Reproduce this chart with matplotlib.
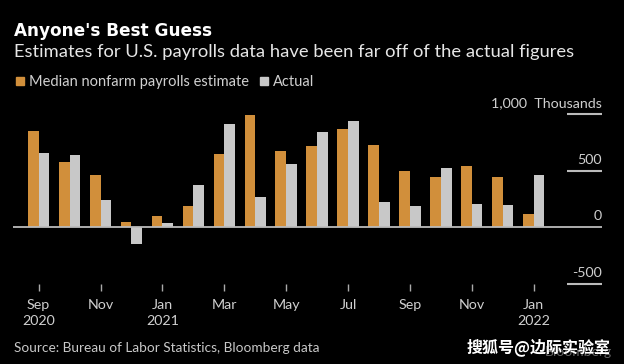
import matplotlib.pyplot as plt
from matplotlib.patches import Rectangle
import numpy as np

# monthly payrolls, thousands (Sep 2020 .. Jan 2022)
months = ["Sep", "Oct", "Nov", "Dec", "Jan", "Feb", "Mar", "Apr", "May",
          "Jun", "Jul", "Aug", "Sep", "Oct", "Nov", "Dec", "Jan"]
estimate = [850, 580, 460, 50, 100, 190, 650, 990, 670, 715, 865, 730,
            495, 440, 545, 440, 120]
actual = [655, 635, 240, -145, 40, 375, 910, 265, 555, 845, 935, 225,
          190, 525, 205, 195, 460]
tick_labels = ["Sep\n2020", "Nov", "Jan\n2021", "Mar", "May", "Jul", "Sep",
               "Nov", "Jan\n2022"]
y_levels = [1000, 500, 0, -500]
y_labels = ["1,000  Thousands", "500", "0", "-500"]

ORANGE = "#D18F3B"
GRAY = "#C8C8C8"
TXT = "#E6E6E6"

plt.rcParams["font.family"] = ["Lato", "Noto Sans CJK SC", "DejaVu Sans"]

W, H = 624, 364
fig = plt.figure(figsize=(W / 100, H / 100), dpi=100, facecolor="black")
ax = fig.add_axes([13 / W, 1 - 284 / H, (602 - 13) / W, (284 - 114) / H])
ax.set_facecolor("black")

x = np.arange(len(months))
bw = 0.345
ax.bar(x - bw / 2, estimate, bw, color=ORANGE, zorder=2)
ax.bar(x + bw / 2, actual, bw, color=GRAY, zorder=2)

xmax = 18.21
ax.set_xlim(-0.83, xmax)
ax.set_ylim(-500, 1000)

for lvl, lab in zip(y_levels, y_labels):
    if lvl == 0:
        ax.axhline(0, color="#BBBBBB", lw=1.3, zorder=3)
    else:
        ax.hlines(lvl, 17.08, xmax, color="#BBBBBB", lw=1.5, zorder=3,
                  clip_on=False)
    ax.annotate(lab, (xmax, lvl), xytext=(0, 7), textcoords="offset pixels",
                ha="right", va="baseline", color="#CFCFCF", fontsize=10.3)

for s in ax.spines.values():
    s.set_visible(False)
ax.set_yticks([])
ax.set_xticks(x[::2], tick_labels)
ax.tick_params(axis="x", length=5, width=1, color="#AAAAAA", pad=6,
               labelcolor="#CFCFCF", labelsize=10.3)
for t in ax.get_xticklabels():
    t.set_linespacing(1.35)

fig.text(14 / W, 1 - 36 / H, "Anyone's Best Guess", color="white",
         fontsize=12.2, fontweight="bold", va="baseline",
         family=["DejaVu Sans"])
fig.text(14 / W, 1 - 57 / H,
         "Estimates for U.S. payrolls data have been far off of the actual figures",
         color=TXT, fontsize=13.2, va="baseline")

# legend
fig.patches.append(Rectangle((16 / W, 1 - 85 / H), 8 / W, 8 / H,
                             transform=fig.transFigure, color=ORANGE))
fig.text(29 / W, 1 - 86 / H, "Median nonfarm payrolls estimate",
         color="#D0D0D0", fontsize=10.5, va="baseline")
fig.patches.append(Rectangle((260 / W, 1 - 85 / H), 8 / W, 8 / H,
                             transform=fig.transFigure, color=GRAY))
fig.text(273 / W, 1 - 86 / H, "Actual", color="#D0D0D0", fontsize=10.5,
         va="baseline")

fig.text(14 / W, 1 - 352 / H,
         "Source: Bureau of Labor Statistics, Bloomberg data",
         color="#C8C8C8", fontsize=9.8, va="baseline")
fig.text(612 / W, 1 - 356 / H, "Bloomberg", color="#666666", fontsize=10,
         ha="right", va="baseline")
fig.text(467 / W, 1 - 352 / H, "搜狐号@边际实验室", color="white",
         fontsize=11.5, fontweight="bold", va="baseline",
         family=["Noto Sans CJK SC", "DejaVu Sans"])

fig.savefig("out.png", dpi=100, facecolor="black")
